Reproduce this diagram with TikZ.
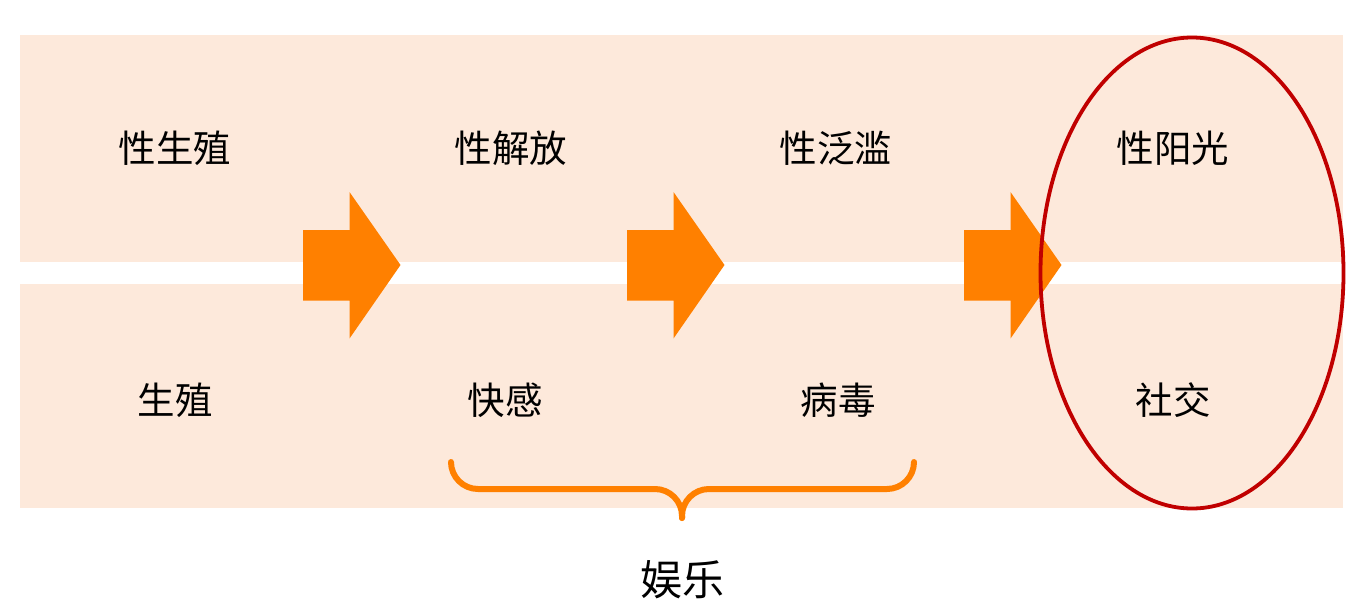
\documentclass[tikz,border=0pt]{standalone}
\usepackage{fontspec}
\usetikzlibrary{shapes.geometric}
\setmainfont{Noto Sans CJK SC}
\definecolor{band}{HTML}{FDE9DB}
\definecolor{arr}{HTML}{FF8000}
\definecolor{ring}{HTML}{C00000}
\begin{document}
\begin{tikzpicture}[x=1pt,y=-1pt,
  lbl/.style={font=\fontsize{37.5}{44}\selectfont, inner sep=0pt},
  bigarrow/.style={fill=arr, draw=none},
  bracestyle/.style={draw=arr, line width=6pt, line cap=round, line join=round, rounded corners=27pt}]
\useasboundingbox (0,0) rectangle (1362,614);
% bands
\fill[band] (20,35) rectangle (1343,262);
\fill[band] (20,284) rectangle (1343,508);
% arrows
\foreach \x/\n in {303/a1,627/a2,964/a3}{
  \fill[bigarrow] (\x,230) -- (\x+46.5,230) -- (\x+46.5,192) -- (\x+97.5,265)
     -- (\x+46.5,338.5) -- (\x+46.5,300.5) -- (\x,300.5) -- cycle;
}
% labels
\node[lbl] (t1) at (175,148) {性生殖};
\node[lbl] (t2) at (511,148) {性解放};
\node[lbl] (t3) at (836,148) {性泛滥};
\node[lbl] (t4) at (1173,148) {性阳光};
\node[lbl] (b1) at (175,400) {生殖};
\node[lbl] (b2) at (505,400) {快感};
\node[lbl] (b3) at (838,400) {病毒};
\node[lbl] (b4) at (1173,400) {社交};
% ellipse
\node[draw=ring, line width=3.8pt, ellipse, minimum width=303pt, minimum height=471pt, inner sep=0pt] (ring) at (1192,273) {};
% brace
\coordinate (bl) at (451,462);
\coordinate (br) at (914,462);
\coordinate (bt) at (682,518);
\draw[bracestyle] (bl) -- (451,489) -- (682,489) -- (bt);
\draw[bracestyle] (br) -- (914,489) -- (682,489) -- (bt);
\node[lbl, font=\fontsize{42}{48}\selectfont] (ent) at (682,580) {娱乐};
\end{tikzpicture}
\end{document}
